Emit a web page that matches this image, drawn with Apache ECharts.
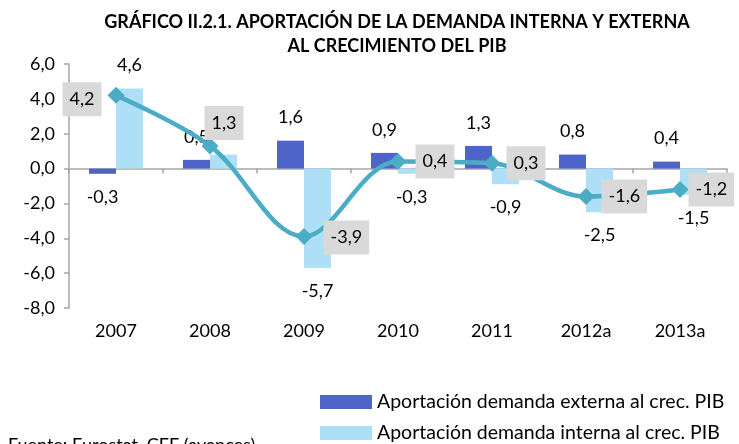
<!DOCTYPE html>
<html>
<head>
<meta charset="utf-8">
<script src="https://cdn.jsdelivr.net/npm/echarts@6/dist/echarts.min.js"></script>
<style>
  html, body { margin: 0; padding: 0; background: #fff; }
  #chart { width: 739px; height: 444px; }
</style>
</head>
<body>
<div id="chart"></div>
<script>
// datos del gráfico
const categorias = ['2007', '2008', '2009', '2010', '2011', '2012a', '2013a'];
const externa = [-0.3, 0.5, 1.6, 0.9, 1.3, 0.8, 0.4];
const interna = [4.6, 0.8, -5.7, -0.3, -0.9, -2.5, -1.5];
const pib = [4.2, 1.3, -3.9, 0.4, 0.3, -1.6, -1.2];
const nombreExterna = 'Aportación demanda externa al crec. PIB';
const nombreInterna = 'Aportación demanda interna al crec. PIB';

const FONT = 'Lato, "Open Sans", sans-serif';
const fmt = (v) => v.toFixed(1).replace('.', ',');

// etiquetas de barra: arriba si positivo, abajo si negativo
function barData(arr) {
  return arr.map((v) => ({
    value: v,
    label: { position: v >= 0 ? 'top' : 'bottom', distance: 14 },
  }));
}

// etiquetas grises de la línea
const lineLabelPos = [
  { position: 'left', offset: [0, 4] },
  { position: 'right', offset: [-20, -23] },
  { position: 'right', offset: [5, 1] },
  { position: 'right', offset: [3, 0] },
  { position: 'right', offset: [0, 0] },
  { position: 'right', offset: [1, 0] },
  { position: 'right', offset: [-6, 0] },
];

const chart = echarts.init(document.getElementById('chart'));

chart.setOption({
  animation: false,
  textStyle: { fontFamily: FONT },
  title: {
    text: 'GRÁFICO II.2.1. APORTACIÓN DE LA DEMANDA INTERNA Y EXTERNA\nAL CRECIMIENTO DEL PIB',
    left: 392,
    top: 5,
    textAlign: 'center',
    textStyle: { fontFamily: FONT, fontSize: 18, fontWeight: 'bold', color: '#000', lineHeight: 24, align: 'center' },
  },
  grid: { left: 69, right: 12, top: 64, bottom: 136 },
  legend: {
    orient: 'vertical',
    left: 320,
    top: 392,
    padding: 0,
    itemWidth: 52,
    itemHeight: 14,
    itemGap: 11,
    icon: 'rect',
    data: [nombreExterna, nombreInterna],
    textStyle: { fontFamily: FONT, fontSize: 19.5, color: '#000', padding: [0, 0, 0, 0] },
  },
  xAxis: [
    {
      type: 'category',
      data: categorias,
      axisLine: { onZero: true, lineStyle: { color: '#A6A6A6', width: 1.5 } },
      axisTick: { show: true, length: 5, lineStyle: { color: '#A6A6A6', width: 1.5 } },
      axisLabel: { show: false },
    },
    {
      type: 'category',
      data: categorias,
      position: 'bottom',
      axisLine: { show: false, onZero: false },
      axisTick: { show: false },
      axisLabel: { fontFamily: FONT, fontSize: 18, color: '#000', margin: 14 },
    },
  ],
  yAxis: {
    type: 'value',
    min: -8,
    max: 6,
    interval: 2,
    axisLine: { show: true, lineStyle: { color: '#A6A6A6', width: 1.5 } },
    axisTick: { show: true, length: 5, lineStyle: { color: '#A6A6A6', width: 1.5 } },
    splitLine: { show: false },
    axisLabel: { fontFamily: FONT, fontSize: 18, color: '#000', margin: 14, formatter: (v) => fmt(v) },
  },
  series: [
    {
      name: nombreExterna,
      type: 'bar',
      data: barData(externa),
      barWidth: 27,
      barGap: '0%',
      itemStyle: { color: '#4F64C8' },
      label: { show: true, fontFamily: FONT, fontSize: 18, color: '#000', formatter: (p) => fmt(p.value) },
    },
    {
      name: nombreInterna,
      type: 'bar',
      data: barData(interna),
      barWidth: 27,
      barGap: '0%',
      itemStyle: { color: '#ADDFF6' },
      label: { show: true, fontFamily: FONT, fontSize: 18, color: '#000', formatter: (p) => fmt(p.value) },
    },
    {
      name: 'PIB',
      type: 'line',
      data: pib.map((v, i) => ({ value: v, label: lineLabelPos[i] })),
      smooth: 0.35,
      symbol: 'diamond',
      symbolSize: 17,
      lineStyle: { color: '#4BACC6', width: 4.5 },
      itemStyle: { color: '#4BACC6' },
      z: 5,
      label: {
        show: true,
        distance: 6,
        fontFamily: FONT,
        fontSize: 18,
        color: '#000',
        backgroundColor: '#D9D9D9',
        padding: [8, 7, 8, 7],
        formatter: (p) => fmt(p.value),
      },
    },
  ],
  graphic: [
    {
      type: 'text',
      left: 8,
      top: 436,
      style: { text: 'Fuente: Eurostat, CEF (avances)', fontFamily: FONT, fontSize: 18, fill: '#000' },
    },
  ],
});
</script>
</body>
</html>
